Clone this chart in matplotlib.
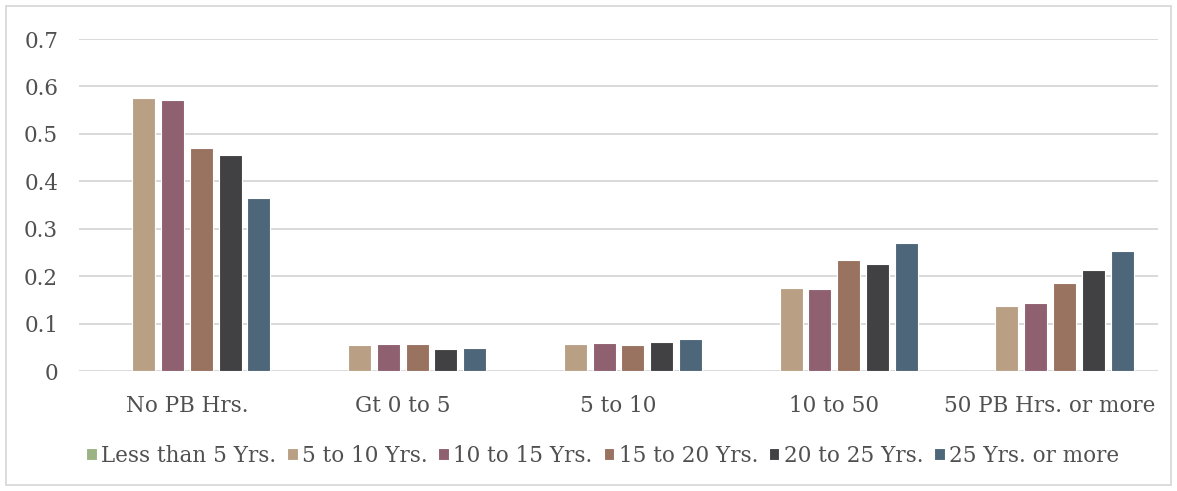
import numpy as np
import matplotlib
matplotlib.use('Agg')
from matplotlib import pyplot as plt
from matplotlib.patches import Rectangle

categories = ['No PB Hrs.', 'Gt 0 to 5', '5 to 10', '10 to 50', '50 PB Hrs. or more']
series_names = ['Less than 5 Yrs.', '5 to 10 Yrs.', '10 to 15 Yrs.',
                '15 to 20 Yrs.', '20 to 25 Yrs.', '25 Yrs. or more']
lt5 = [0, 0, 0, 0, 0]
y5_10 = [0.576, 0.054, 0.057, 0.176, 0.138]
y10_15 = [0.572, 0.056, 0.059, 0.172, 0.144]
y15_20 = [0.471, 0.057, 0.054, 0.234, 0.186]
y20_25 = [0.456, 0.047, 0.061, 0.225, 0.213]
y25_up = [0.364, 0.049, 0.068, 0.269, 0.253]
colors = ['#9BB383', '#B9A084', '#8E6070', '#9A7260', '#414143', '#4E667A']

plt.rcParams['font.family'] = ['DejaVu Serif']
fig = plt.figure(figsize=(11.77, 4.91), dpi=100)
ax = fig.add_axes([79 / 1177, 1 - 371 / 491, (1158 - 79) / 1177, (371 - 39) / 491])

data = [lt5, y5_10, y10_15, y15_20, y20_25, y25_up]
x = np.arange(len(categories))
slot = 0.8 / 6
for i, (vals, name, c) in enumerate(zip(data, series_names, colors)):
    ax.bar(x - 0.4 + slot * (i + 0.5), vals, width=slot * 0.8, color=c,
           edgecolor='white', linewidth=0.8, label=name, zorder=3)

ax.set_xlim(-0.5, len(categories) - 0.5)
ax.set_ylim(0, 0.7)
ax.set_yticks(np.arange(0, 0.71, 0.1))
ax.set_yticklabels(['0', '0.1', '0.2', '0.3', '0.4', '0.5', '0.6', '0.7'])
ax.set_xticks(x)
ax.set_xticklabels(categories)
ax.grid(axis='y', color='#D9D9D9', linewidth=1.4, zorder=0)
for s in ax.spines.values():
    s.set_visible(False)
ax.tick_params(length=0, labelsize=15.5, colors='#505050')
ax.tick_params(axis='x', pad=17)
ax.tick_params(axis='y', pad=15)

fig.legend(loc='center', bbox_to_anchor=(0.512, 1 - 456 / 491), ncol=6, frameon=False,
           fontsize=15.5, handlelength=0.5, handleheight=0.5, handletextpad=0.2,
           columnspacing=0.5, labelcolor='#505050')
fig.patches.append(Rectangle((6 / 1177, 6 / 491), 1 - 12 / 1177, 1 - 12 / 491,
                             transform=fig.transFigure, fill=False,
                             edgecolor='#D9D9D9', linewidth=1.3))
plt.savefig('out.png')
plt.close()
